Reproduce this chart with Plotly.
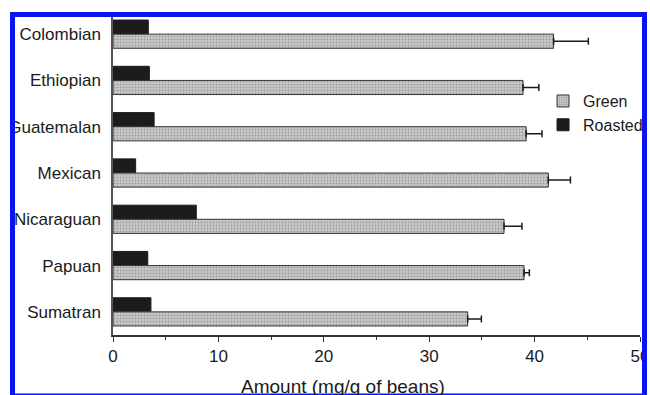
import plotly.graph_objects as go

categories = ["Colombian", "Ethiopian", "Guatemalan", "Mexican", "Nicaraguan", "Papuan", "Sumatran"]
green = [41.8, 38.9, 39.2, 41.3, 37.1, 39.0, 33.65]
green_err = [3.3, 1.5, 1.5, 2.1, 1.7, 0.5, 1.3]
roasted = [3.35, 3.45, 3.9, 2.15, 7.9, 3.3, 3.6]
x_ticks = [0, 10, 20, 30, 40, 50]

FONT = "Arial, Liberation Sans, sans-serif"

fig = go.Figure()
fig.add_trace(go.Bar(
    y=categories, x=roasted, orientation="h", name="Roasted",
    marker=dict(color="#1c1c1c", line=dict(color="#1c1c1c", width=1)),
))
fig.add_trace(go.Bar(
    y=categories, x=green, orientation="h", name="Green",
    marker=dict(color="#c4c4c4", line=dict(color="#333333", width=1),
                pattern=dict(shape=".", fgcolor="#6e6e6e", bgcolor="#cacaca",
                             size=3, solidity=0.35)),
    error_x=dict(type="data", array=green_err, arrayminus=[0] * len(green_err),
                 symmetric=False, visible=True,
                 color="#1a1a1a", thickness=1.5, width=3.5),
))

fig.update_layout(
    width=650, height=395,
    margin=dict(l=113, r=10, t=11, b=60, autoexpand=False),
    paper_bgcolor="white", plot_bgcolor="white",
    barmode="group", bargap=0.39, bargroupgap=0,
    font=dict(family=FONT, color="#1a1a1a"),
    showlegend=True,
    legend=dict(traceorder="reversed", x=0.816, y=0.685, xanchor="left", yanchor="middle",
                font=dict(size=16, family=FONT, color="#1a1a1a"),
                bgcolor="rgba(0,0,0,0)", itemwidth=30, tracegroupgap=0),
    xaxis=dict(range=[0, 50], tickvals=x_ticks, ticktext=[str(v) for v in x_ticks],
               showgrid=False, zeroline=False, showline=True, linecolor="#333",
               linewidth=1.5, ticks="outside", ticklen=5, tickwidth=1.2, tickcolor="#333",
               minor=dict(dtick=5, ticks="outside", ticklen=3, tickcolor="#333"),
               automargin=False,
               tickfont=dict(size=17, family=FONT, color="#1a1a1a")),
    yaxis=dict(autorange="reversed", showgrid=False, zeroline=False, showline=True,
               linecolor="#555", linewidth=1.5, ticks="", ticklabelstandoff=7,
               automargin=False,
               tickfont=dict(size=17, family=FONT, color="#1a1a1a")),
)

fig.add_annotation(text="Amount (mg/g of beans)", xref="paper", yref="paper",
                   x=(343 - 113) / 527, y=(335 - 386) / 324, xanchor="center", yanchor="middle",
                   showarrow=False, font=dict(size=19, family=FONT, color="#1a1a1a"))

# outer white masks and blue frame (positions given in window pixels)
def px2x(px):
    return (px - 113) / 527

def py2y(py):
    return (335 - py) / 324

for x0, y0, x1, y1 in [(-5, -5, 10, 400), (-5, -5, 655, 12), (647, -5, 655, 400)]:
    fig.add_shape(type="rect", xref="paper", yref="paper", layer="above",
                  x0=px2x(x0), x1=px2x(x1), y0=py2y(y0), y1=py2y(y1),
                  fillcolor="white", line=dict(width=0))
fig.add_shape(type="rect", xref="paper", yref="paper", layer="above",
              x0=px2x(12.5), x1=px2x(644.5), y0=py2y(14.5), y1=py2y(396),
              fillcolor="rgba(0,0,0,0)", line=dict(color="#0a14f0", width=5))

# remove the default 8px page margin so the 650x395 figure fills the window exactly
fig.write_html("out.html", config={"displayModeBar": False},
               post_script="document.body.style.margin='0';document.body.style.overflow='hidden';")
